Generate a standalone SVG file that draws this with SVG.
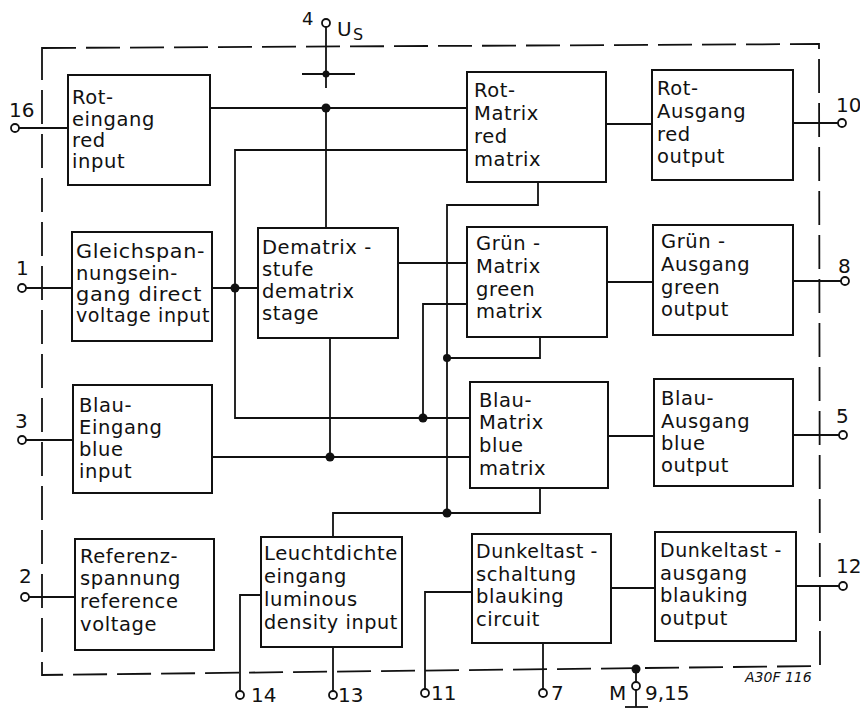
<svg xmlns="http://www.w3.org/2000/svg" width="860" height="711" viewBox="0 0 860 711">
<style>
.bx{fill:#fff;stroke:#111;stroke-width:2}
.ln{fill:none;stroke:#111;stroke-width:1.8}
.bd{fill:none;stroke:#111;stroke-width:1.8;stroke-dasharray:34 10}
.dot{fill:#111}
.pin{fill:#fff;stroke:#111;stroke-width:1.8}
text{font-family:"DejaVu Sans","Liberation Sans",sans-serif;fill:#111}
.t{font-size:19.5px;letter-spacing:0.6px}
.lb{font-size:20px}
</style>
<rect width="860" height="711" fill="#fff"/>
<path class="bd" d="M42,48 L819,44 L820,666 L42,675 Z"/>
<g id="connectors">
  <line class="ln" x1="19" y1="128" x2="68" y2="128"/>
  <line class="ln" x1="210" y1="108" x2="467" y2="108"/>
  <line class="ln" x1="326" y1="108" x2="326" y2="228"/>
  <line class="ln" x1="326" y1="27" x2="326" y2="88"/>
  <line class="ln" x1="302" y1="74" x2="355" y2="74"/>
  <polyline class="ln" points="467,150 235,150 235,418 470,418"/>
  <line class="ln" x1="26" y1="288" x2="72" y2="288"/>
  <line class="ln" x1="212" y1="288" x2="258" y2="288"/>
  <line class="ln" x1="398" y1="263" x2="467" y2="263"/>
  <polyline class="ln" points="423,418 423,304 467,304"/>
  <polyline class="ln" points="538,182 538,205 447,205 447,513"/>
  <polyline class="ln" points="540,337 540,358 447,358"/>
  <polyline class="ln" points="540,488 540,513 333,513 333,537"/>
  <line class="ln" x1="26" y1="440" x2="73" y2="440"/>
  <line class="ln" x1="212" y1="457" x2="470" y2="457"/>
  <line class="ln" x1="330" y1="338" x2="330" y2="457"/>
  <line class="ln" x1="606" y1="124" x2="652" y2="124"/>
  <line class="ln" x1="793" y1="123" x2="838" y2="123"/>
  <line class="ln" x1="607" y1="282" x2="653" y2="282"/>
  <line class="ln" x1="793" y1="281" x2="841" y2="281"/>
  <line class="ln" x1="608" y1="436" x2="654" y2="436"/>
  <line class="ln" x1="793" y1="435" x2="839" y2="435"/>
  <line class="ln" x1="611" y1="588" x2="655" y2="588"/>
  <line class="ln" x1="796" y1="586" x2="839" y2="586"/>
  <line class="ln" x1="29" y1="597" x2="75" y2="597"/>
  <polyline class="ln" points="261,595 240,595 240,691"/>
  <line class="ln" x1="333" y1="647" x2="333" y2="691"/>
  <polyline class="ln" points="472,592 425,592 425,689"/>
  <line class="ln" x1="543" y1="643" x2="543" y2="689"/>
  <line class="ln" x1="636" y1="669" x2="636" y2="682"/>
  <line class="ln" x1="636" y1="690" x2="636" y2="707"/>
  <line class="ln" x1="625" y1="707" x2="648" y2="707"/>
  <circle class="dot" cx="326" cy="74" r="3.5"/>
  <circle class="dot" cx="326" cy="108" r="4.5"/>
  <circle class="dot" cx="235" cy="288" r="4.5"/>
  <circle class="dot" cx="423" cy="418" r="4.5"/>
  <circle class="dot" cx="447" cy="358" r="4"/>
  <circle class="dot" cx="447" cy="513" r="4.5"/>
  <circle class="dot" cx="330" cy="457" r="4.5"/>
  <circle class="dot" cx="636" cy="669" r="4.5"/>
  <circle class="pin" cx="326" cy="23" r="4"/>
  <circle class="pin" cx="15" cy="128" r="4"/>
  <circle class="pin" cx="22" cy="288" r="4"/>
  <circle class="pin" cx="22" cy="440" r="4"/>
  <circle class="pin" cx="25" cy="597" r="4"/>
  <circle class="pin" cx="842" cy="123" r="4"/>
  <circle class="pin" cx="845" cy="281" r="4"/>
  <circle class="pin" cx="843" cy="435" r="4"/>
  <circle class="pin" cx="843" cy="586" r="4"/>
  <circle class="pin" cx="240" cy="695" r="4"/>
  <circle class="pin" cx="333" cy="695" r="4"/>
  <circle class="pin" cx="425" cy="693" r="4"/>
  <circle class="pin" cx="543" cy="693" r="4"/>
  <circle class="pin" cx="636" cy="686" r="4"/>
</g>
<g id="pin-labels" class="lb">
  <text x="302" y="25" font-size="18">4</text>
  <text x="337" y="36">U</text>
  <text x="353" y="40" font-size="16">S</text>
  <text x="9" y="117">16</text>
  <text x="16" y="275">1</text>
  <text x="15" y="428">3</text>
  <text x="19" y="583">2</text>
  <text x="836" y="112">10</text>
  <text x="838" y="273">8</text>
  <text x="836" y="423">5</text>
  <text x="836" y="573">12</text>
  <text x="251" y="702">14</text>
  <text x="338" y="702">13</text>
  <text x="431" y="700">11</text>
  <text x="551" y="700">7</text>
  <text x="609" y="700">M</text>
  <text x="645" y="700">9,15</text>
  <text x="745" y="682" font-size="14" font-style="italic">A30F 116</text>
</g>
<g id="rot-eingang">
  <rect class="bx" x="68" y="75" width="142" height="110"/>
  <text class="t" x="72" y="104">Rot-</text>
  <text class="t" x="72" y="126">eingang</text>
  <text class="t" x="72" y="147">red</text>
  <text class="t" x="72" y="168">input</text>
</g>
<g id="gleichspannung">
  <rect class="bx" x="72" y="232" width="140" height="109"/>
  <text class="t" x="76" y="258" textLength="129" lengthAdjust="spacingAndGlyphs">Gleichspan-</text>
  <text class="t" x="76" y="280">nungsein-</text>
  <text class="t" x="76" y="301" textLength="126" lengthAdjust="spacingAndGlyphs">gang direct</text>
  <text class="t" x="76" y="322" textLength="134" lengthAdjust="spacingAndGlyphs">voltage input</text>
</g>
<g id="dematrix">
  <rect class="bx" x="258" y="228" width="140" height="110"/>
  <text class="t" x="262" y="254">Dematrix -</text>
  <text class="t" x="262" y="276">stufe</text>
  <text class="t" x="262" y="298">dematrix</text>
  <text class="t" x="262" y="320">stage</text>
</g>
<g id="blau-eingang">
  <rect class="bx" x="73" y="385" width="139" height="108"/>
  <text class="t" x="79" y="412">Blau-</text>
  <text class="t" x="79" y="434">Eingang</text>
  <text class="t" x="79" y="456">blue</text>
  <text class="t" x="79" y="478">input</text>
</g>
<g id="referenz">
  <rect class="bx" x="75" y="539" width="139" height="111"/>
  <text class="t" x="80" y="563">Referenz-</text>
  <text class="t" x="80" y="585">spannung</text>
  <text class="t" x="80" y="608">reference</text>
  <text class="t" x="80" y="631">voltage</text>
</g>
<g id="leuchtdichte">
  <rect class="bx" x="261" y="537" width="141" height="110"/>
  <text class="t" x="264" y="560" textLength="134" lengthAdjust="spacingAndGlyphs">Leuchtdichte</text>
  <text class="t" x="264" y="583">eingang</text>
  <text class="t" x="264" y="606">luminous</text>
  <text class="t" x="264" y="629" textLength="134" lengthAdjust="spacingAndGlyphs">density input</text>
</g>
<g id="rot-matrix">
  <rect class="bx" x="467" y="72" width="139" height="110"/>
  <text class="t" x="474" y="97">Rot-</text>
  <text class="t" x="474" y="120">Matrix</text>
  <text class="t" x="474" y="143">red</text>
  <text class="t" x="474" y="166">matrix</text>
</g>
<g id="rot-ausgang">
  <rect class="bx" x="652" y="70" width="141" height="110"/>
  <text class="t" x="657" y="95">Rot-</text>
  <text class="t" x="657" y="118">Ausgang</text>
  <text class="t" x="657" y="141">red</text>
  <text class="t" x="657" y="163">output</text>
</g>
<g id="gruen-matrix">
  <rect class="bx" x="467" y="227" width="140" height="110"/>
  <text class="t" x="476" y="250">Grün -</text>
  <text class="t" x="476" y="273">Matrix</text>
  <text class="t" x="476" y="296">green</text>
  <text class="t" x="476" y="318">matrix</text>
</g>
<g id="gruen-ausgang">
  <rect class="bx" x="653" y="225" width="140" height="110"/>
  <text class="t" x="661" y="248">Grün -</text>
  <text class="t" x="661" y="271">Ausgang</text>
  <text class="t" x="661" y="294">green</text>
  <text class="t" x="661" y="316">output</text>
</g>
<g id="blau-matrix">
  <rect class="bx" x="470" y="382" width="138" height="106"/>
  <text class="t" x="479" y="407">Blau-</text>
  <text class="t" x="479" y="429">Matrix</text>
  <text class="t" x="479" y="452">blue</text>
  <text class="t" x="479" y="475">matrix</text>
</g>
<g id="blau-ausgang">
  <rect class="bx" x="654" y="379" width="139" height="107"/>
  <text class="t" x="661" y="405">Blau-</text>
  <text class="t" x="661" y="428">Ausgang</text>
  <text class="t" x="661" y="450">blue</text>
  <text class="t" x="661" y="472">output</text>
</g>
<g id="dunkeltast-schaltung">
  <rect class="bx" x="472" y="534" width="139" height="109"/>
  <text class="t" x="476" y="558" textLength="122" lengthAdjust="spacingAndGlyphs">Dunkeltast -</text>
  <text class="t" x="476" y="581">schaltung</text>
  <text class="t" x="476" y="603">blauking</text>
  <text class="t" x="476" y="626">circuit</text>
</g>
<g id="dunkeltast-ausgang">
  <rect class="bx" x="655" y="532" width="141" height="109"/>
  <text class="t" x="660" y="557" textLength="122" lengthAdjust="spacingAndGlyphs">Dunkeltast -</text>
  <text class="t" x="660" y="580">ausgang</text>
  <text class="t" x="660" y="602">blauking</text>
  <text class="t" x="660" y="625">output</text>
</g>
</svg>
